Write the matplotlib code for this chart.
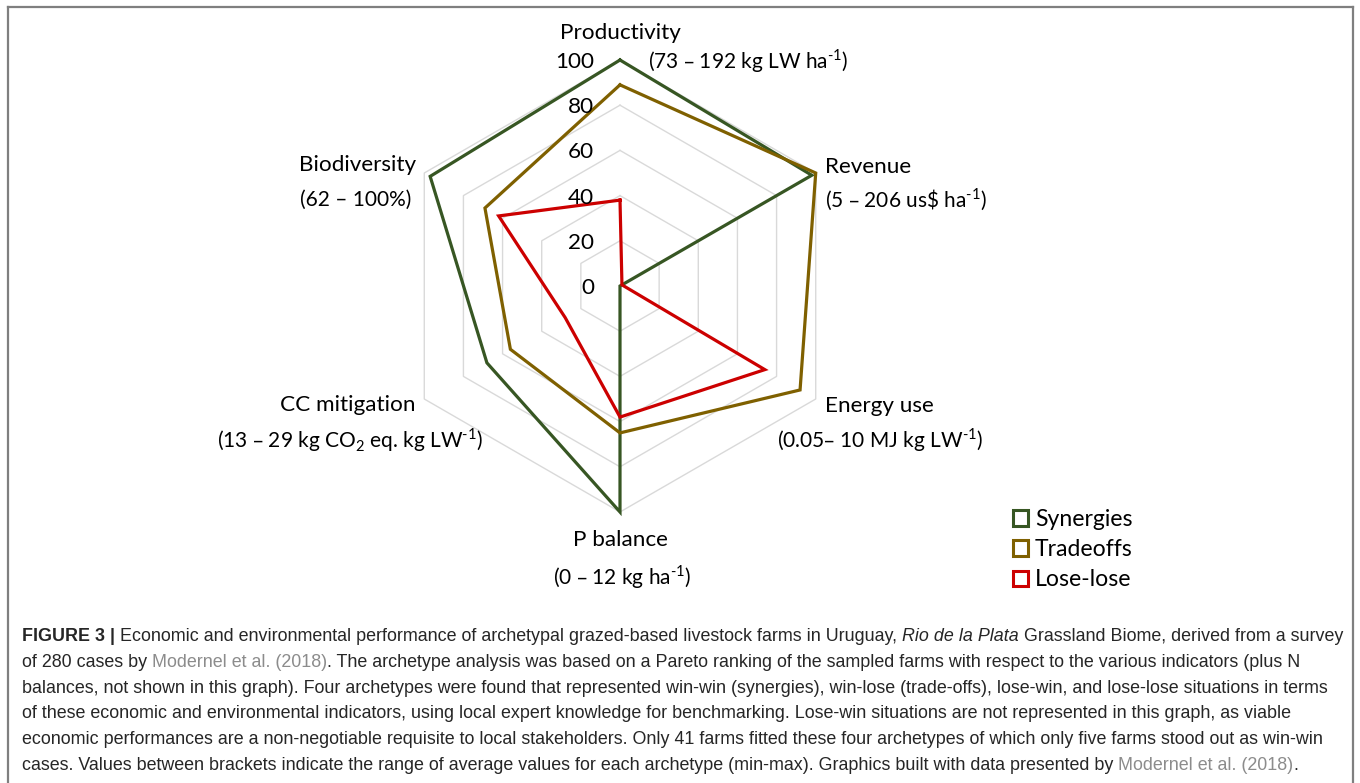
import numpy as np
import matplotlib
matplotlib.use('Agg')
import matplotlib.pyplot as plt
from matplotlib import font_manager
from matplotlib.lines import Line2D
from matplotlib.patches import Patch

# ---------------- data ----------------
SUP = '$^{\\mathregular{\u2010' + '1}}$'
categories = ['Productivity', 'Revenue', 'Energy use', 'P balance', 'CC mitigation', 'Biodiversity']
ranges = ['(73 – 192 kg LW ha' + SUP + ')',
          '(5 – 206 us\\$ ha' + SUP + ')',
          '(0.05– 10 MJ kg LW' + SUP + ')',
          '(0 – 12 kg ha' + SUP + ')',
          '(13 – 29 kg CO$_{\\mathregular{2}}$ eq. kg LW' + SUP + ')',
          '(62 – 100%)']
series_names = ['Synergies', 'Tradeoffs', 'Lose-lose']
synergies = [100, 98, 0, 100, 68, 97]
tradeoffs = [89, 100, 92, 65, 56, 69]
lose_lose = [38, 1, 74, 58, 28, 62]
grid_levels = [0, 20, 40, 60, 80, 100]

colors = ['#375623', '#7F6000', '#CC0000']

caption_lines = [
    [("FIGURE 3 |", 'bold', False),
     ("Economic and environmental performance of archetypal grazed-based livestock farms in Uruguay,", 'normal', True),
     ("Rio de la Plata", 'italic', True),
     ("Grassland Biome, derived from a survey", 'normal', True)],
    [("of 280 cases by", 'normal', False),
     ("Modernel et al. (2018)", 'link', True),
     (". The archetype analysis was based on a Pareto ranking of the sampled farms with respect to the various indicators (plus N", 'normal', False)],
    [("balances, not shown in this graph). Four archetypes were found that represented win-win (synergies), win-lose (trade-offs), lose-win, and lose-lose situations in terms", 'normal', False)],
    [("of these economic and environmental indicators, using local expert knowledge for benchmarking. Lose-win situations are not represented in this graph, as viable", 'normal', False)],
    [("economic performances are a non-negotiable requisite to local stakeholders. Only 41 farms fitted these four archetypes of which only five farms stood out as win-win", 'normal', False)],
    [("cases. Values between brackets indicate the range of average values for each archetype (min-max). Graphics built with data presented by", 'normal', False),
     ("Modernel et al. (2018)", 'link', True),
     (".", 'normal', False)],
]

# ---------------- helpers ----------------
def have_font(name):
    try:
        font_manager.findfont(font_manager.FontProperties(family=name), fallback_to_default=False)
        return True
    except Exception:
        return False

radar_font = 'Lato' if have_font('Lato') else 'DejaVu Sans'
cap_font = 'Liberation Sans Narrow' if have_font('Liberation Sans Narrow') else 'Liberation Sans'

W, H = 1360, 783
fig = plt.figure(figsize=(W / 100, H / 100), dpi=100)
renderer = fig.canvas.get_renderer()

def text_width(s, **kw):
    t = fig.text(0, 0, s, **kw)
    w = t.get_window_extent(renderer).width
    t.remove()
    return w

# fit radar font size so "Productivity" is ~121 px wide
fs = 16 * 121 / text_width('Productivity', fontsize=16, family=radar_font)

# ---------------- radar ----------------
cx, cy, R = 620, 286, 226
ax = fig.add_axes([(cx - R) / W, (H - cy - R) / H, 2 * R / W, 2 * R / H], projection='polar')
ax.set_theta_offset(np.pi / 2)
ax.set_theta_direction(-1)
ax.set_ylim(0, 100)
ax.set_xticks([])
ax.set_yticks([])
ax.grid(False)
ax.spines['polar'].set_visible(False)
ax.patch.set_visible(False)

n = len(categories)
angles = np.arange(n) * 2 * np.pi / n
ang_closed = np.append(angles, angles[0])

for lvl in grid_levels[1:]:
    ax.plot(ang_closed, [lvl] * (n + 1), color='#D9D9D9', lw=1.0, zorder=1, clip_on=False)

for name, vals, c in zip(series_names, [synergies, tradeoffs, lose_lose], colors):
    ax.plot(ang_closed, list(vals) + [vals[0]], color=c, lw=2.3, solid_joinstyle='miter',
            zorder=3, clip_on=False, label=name)

for lvl in grid_levels:
    ax.annotate(str(lvl), xy=(0, lvl), xytext=(-26, -2), textcoords='offset pixels',
                ha='right', va='center', fontsize=fs, family=radar_font, color='#000000',
                annotation_clip=False)

# label offsets (pixels) relative to each axis end at 100
title_offsets = [(0, 27, 'center'), (9, 6, 'left'), (9, -7, 'left'), (0, -28, 'center'),
                 (-77, -6, 'center'), (-67, 8, 'center')]
range_offsets = [(28, -1, 'left'), (9, -27, 'left'), (64, -41, 'center'), (2, -65, 'center'),
                 (-74, -41, 'center'), (-69, -27, 'center')]
for a, cat, rng, to, ro in zip(angles, categories, ranges, title_offsets, range_offsets):
    ax.annotate(cat, xy=(a, 100), xytext=(to[0], to[1]), textcoords='offset pixels',
                ha=to[2], va='center', fontsize=fs, family=radar_font, annotation_clip=False)
    ax.annotate(rng, xy=(a, 100), xytext=(ro[0], ro[1]), textcoords='offset pixels',
                ha=ro[2], va='center', fontsize=fs * 0.93, family=radar_font, annotation_clip=False)

handles = [Patch(facecolor='white', edgecolor=c, lw=2.2) for c in colors]
fig.legend(handles, series_names, loc='upper left', bbox_to_anchor=(1013 / W, 1 - 509 / H),
           frameon=False, prop={'family': radar_font, 'size': fs * 1.02},
           handlelength=0.65, handleheight=0.65, handletextpad=0.3, labelspacing=0.4,
           borderpad=0, borderaxespad=0)

# ---------------- caption ----------------
plain_line1 = ' '.join(s for s, _, _ in caption_lines[0])
cfs = 12 * 1323 / text_width(plain_line1, fontsize=12, family=cap_font)
space_w = (text_width('a a', fontsize=cfs, family=cap_font)
           - text_width('aa', fontsize=cfs, family=cap_font))

styles = {
    'normal': dict(color='#262626'),
    'bold': dict(color='#262626', fontweight='bold'),
    'italic': dict(color='#262626', fontstyle='italic'),
    'link': dict(color='#8c8c8c'),
}
x0 = 22
y_first = 641
line_gap = 25.8
for i, segs in enumerate(caption_lines):
    x = x0
    y = y_first + i * line_gap
    for s, st, sp in segs:
        if sp:
            x += space_w
        t = fig.text(x / W, 1 - y / H, s, ha='left', va='baseline', fontsize=cfs,
                     family=cap_font, **styles[st])
        x = t.get_window_extent(renderer).x1

# ---------------- frame ----------------
bc = '#7f7f7f'
fig.add_artist(Line2D([8 / W, 1353 / W], [1 - 7 / H, 1 - 7 / H], transform=fig.transFigure, color=bc, lw=1.6))
fig.add_artist(Line2D([8 / W, 8 / W], [0, 1 - 7 / H], transform=fig.transFigure, color=bc, lw=1.6))
fig.add_artist(Line2D([1353 / W, 1353 / W], [0, 1 - 7 / H], transform=fig.transFigure, color=bc, lw=1.6))

fig.savefig('out.png', dpi=100, facecolor='white')
